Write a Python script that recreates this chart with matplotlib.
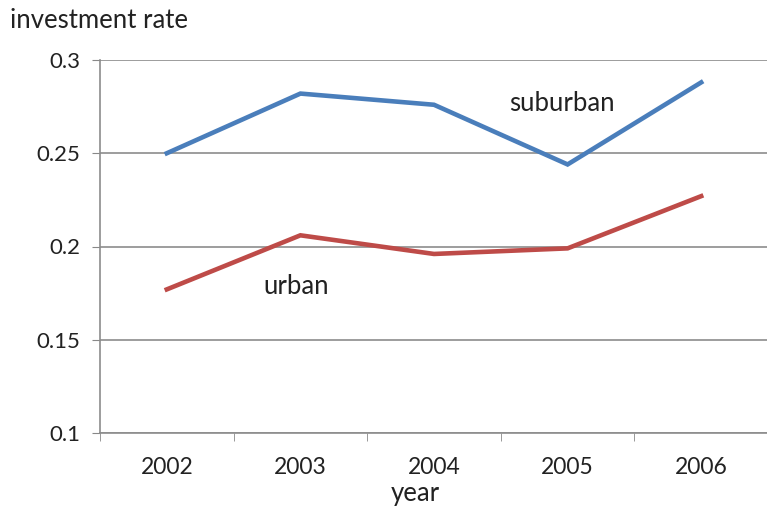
import matplotlib
matplotlib.use("Agg")
import matplotlib.pyplot as plt
from matplotlib.ticker import FixedLocator

years = ["2002", "2003", "2004", "2005", "2006"]
suburban = [0.250, 0.282, 0.276, 0.244, 0.288]
urban = [0.177, 0.206, 0.196, 0.199, 0.227]
yticks = [0.1, 0.15, 0.2, 0.25, 0.3]
ytick_labels = ["0.1", "0.15", "0.2", "0.25", "0.3"]

plt.rcParams['font.family'] = ['Lato', 'DejaVu Sans']

fig = plt.figure(figsize=(7.67, 5.13), dpi=100)
W, H = 767, 513
ax = fig.add_axes([100 / W, 1 - 433 / H, 668 / W, (433 - 60) / H])

x = list(range(len(years)))
ax.plot(x, suburban, color="#4A7EBB", lw=3.3, solid_joinstyle="miter", zorder=3)
ax.plot(x, urban, color="#BE4B48", lw=3.3, solid_joinstyle="miter", zorder=3)

ax.set_xlim(-0.5, len(years) - 0.5)
ax.set_ylim(0.1, 0.3)
ax.set_yticks(yticks)
ax.set_yticklabels(ytick_labels)
ax.set_xticks(x)
ax.set_xticklabels(years)
ax.xaxis.set_minor_locator(FixedLocator([i - 0.5 for i in range(len(years) + 1)]))
ax.tick_params(axis="x", which="major", length=0, pad=17, labelsize=16.5, colors="#222222")
ax.tick_params(axis="x", which="minor", length=6, color="#888888", direction="out")
ax.tick_params(axis="y", length=6, color="#888888", direction="out", pad=8, labelsize=16, labelcolor="#222222")

ax.grid(axis="y", color="#8c8c8c", lw=1.2)
ax.set_axisbelow(True)
for s in ["top", "right"]:
    ax.spines[s].set_visible(False)
for s in ["left", "bottom"]:
    ax.spines[s].set_color("#8c8c8c")
    ax.spines[s].set_linewidth(1.2)

ax.text(2.96, 0.2765, "suburban", fontsize=18.5, color="#222222", ha="center", va="center")
ax.text(0.97, 0.1785, "urban", fontsize=18.5, color="#222222", ha="center", va="center")

fig.text(10 / W, 1 - 20 / H, "investment rate", fontsize=18.5, color="#222222", ha="left", va="center")
fig.text(415 / W, 1 - 494 / H, "year", fontsize=18.5, color="#222222", ha="center", va="center")

fig.savefig("out.png", dpi=100)
